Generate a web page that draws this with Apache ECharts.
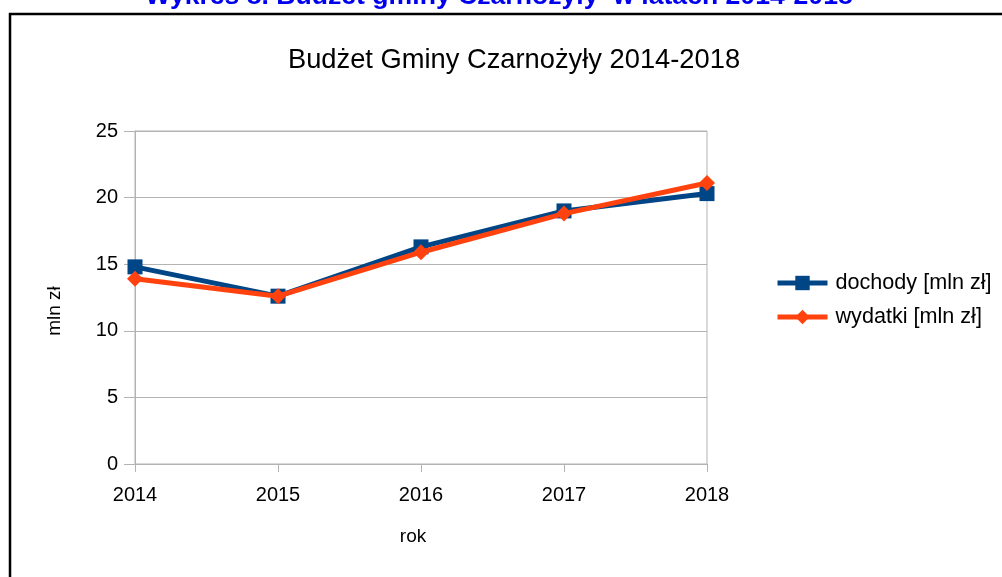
<!DOCTYPE html>
<html>
<head>
<meta charset="utf-8">
<script src="https://cdn.jsdelivr.net/npm/echarts@6/dist/echarts.min.js"></script>
<style>
html,body{margin:0;padding:0;background:#fff;}
#chart{width:1002px;height:577px;}
</style>
</head>
<body>
<div id="chart"></div>
<script>
const years = ['2014', '2015', '2016', '2017', '2018'];
const dochody = [14.8, 12.6, 16.3, 19.0, 20.3];
const wydatki = [13.9, 12.6, 15.9, 18.8, 21.1];
const seriesNames = ['dochody [mln zł]', 'wydatki [mln zł]'];
const yTicks = [0, 5, 10, 15, 20, 25];

const FONT = 'Liberation Sans';
const chart = echarts.init(document.getElementById('chart'), null, {renderer: 'canvas'});
chart.setOption({
  backgroundColor: '#ffffff',
  animation: false,
  textStyle: {fontFamily: FONT},
  title: {
    text: 'Budżet Gminy Czarnożyły 2014-2018',
    left: 509, top: 42, textAlign: 'center',
    textStyle: {fontFamily: FONT, fontSize: 27.3, fontWeight: 'normal', color: '#000'}
  },
  graphic: [
    {type: 'rect', shape: {x: 10, y: 14, width: 1010, height: 600},
     style: {fill: 'none', stroke: '#000', lineWidth: 2.5}, silent: true},
    {type: 'text', x: 499, y: 10,
     style: {text: 'Wykres 8. Budżet gminy Czarnożyły  w latach 2014-2018', fill: '#0000ee',
       font: 'bold 26.6px "Liberation Sans"', textAlign: 'center', textVerticalAlign: 'bottom'}},
    {type: 'text', x: 413, y: 537,
     style: {text: 'rok', fill: '#000', font: '19px "Liberation Sans"', textAlign: 'center', textVerticalAlign: 'middle'}},
    {type: 'text', x: 55, y: 311, rotation: Math.PI / 2,
     style: {text: 'mln zł', fill: '#000', font: '19px "Liberation Sans"', textAlign: 'center', textVerticalAlign: 'middle'}}
  ],
  legend: {
    left: 770, top: 267, orient: 'vertical',
    itemWidth: 50, itemHeight: 18, itemGap: 12,
    lineStyle: {width: 5},
    data: seriesNames,
    textStyle: {fontFamily: FONT, fontSize: 21.6, lineHeight: 20, color: '#000', padding: [0, 0, 0, 3]}
  },
  grid: {left: 135, top: 131, right: 295, bottom: 113, show: true,
    borderColor: '#b3b3b3', borderWidth: 1, backgroundColor: 'transparent'},
  xAxis: {
    type: 'category', data: years, boundaryGap: false,
    axisLine: {lineStyle: {color: '#b3b3b3', width: 1}},
    axisTick: {show: true, length: 8, lineStyle: {color: '#b3b3b3'}},
    axisLabel: {color: '#000', fontSize: 20, margin: 21, fontFamily: FONT},
    splitLine: {show: false}
  },
  yAxis: {
    type: 'value', min: yTicks[0], max: yTicks[yTicks.length - 1], interval: 5,
    axisLine: {show: true, lineStyle: {color: '#b3b3b3', width: 1}},
    axisTick: {show: true, length: 11, lineStyle: {color: '#b3b3b3'}},
    axisLabel: {color: '#000', fontSize: 20, margin: 17, fontFamily: FONT},
    splitLine: {show: true, lineStyle: {color: '#b3b3b3', width: 1}}
  },
  series: [
    {name: seriesNames[0], type: 'line', data: dochody, symbol: 'rect', symbolSize: 15,
     itemStyle: {color: '#004586'}, lineStyle: {color: '#004586', width: 5}, z: 2},
    {name: seriesNames[1], type: 'line', data: wydatki, symbol: 'diamond', symbolSize: 16,
     itemStyle: {color: '#ff420e'}, lineStyle: {color: '#ff420e', width: 5}, z: 3}
  ]
});
</script>
</body>
</html>
